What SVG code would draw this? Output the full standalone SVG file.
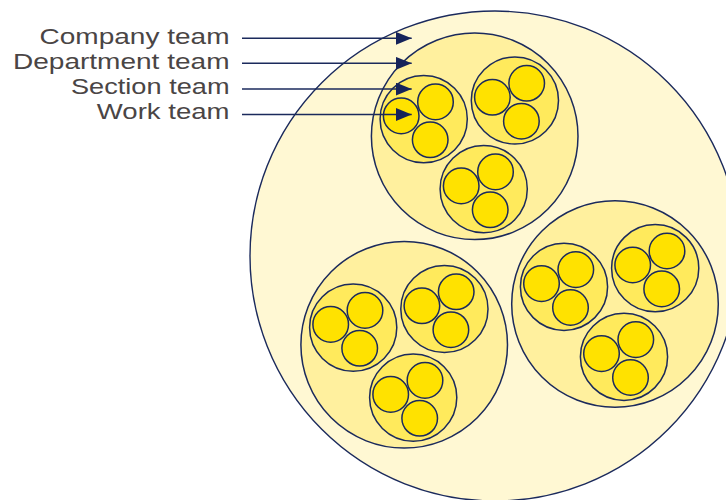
<svg xmlns="http://www.w3.org/2000/svg" width="726" height="500" viewBox="0 0 726 500">
  <style>
    .company { fill: #FFF8D3; stroke: #1B2A5C; stroke-width: 1.4; }
    .dept { fill: #FFF09E; stroke: #1B2A5C; stroke-width: 1.5; }
    .section { fill: #FFEA5C; stroke: #1B2A5C; stroke-width: 1.5; }
    .work { fill: #FFE200; stroke: #1B2A5C; stroke-width: 1.5; }
    .label { font-family: "Liberation Sans", Arial, sans-serif; font-size: 21.5px; fill: #4A4545; text-anchor: end; }
    .pointer { stroke: #1B2A5C; stroke-width: 1.4; fill: none; marker-end: url(#tip); }
  </style>
  <defs>
    <marker id="tip" markerWidth="16" markerHeight="13" refX="16" refY="6.5" orient="auto" markerUnits="userSpaceOnUse">
      <path d="M0,0 L16,6.5 L0,13 Z" fill="#16235A"/>
    </marker>
    <!-- one section: three work teams around its centre -->
    <g id="sectionShape">
      <circle class="section" cx="0" cy="0" r="43.6"/>
      <circle class="work" cx="-22.5" cy="-3.2" r="17.8"/>
      <circle class="work" cx="11.8" cy="-17.2" r="17.8"/>
      <circle class="work" cx="6.5" cy="20.7" r="17.8"/>
    </g>
  </defs>

  <g id="company-team">
    <circle class="company" cx="495" cy="256" r="245"/>
  </g>

  <g id="department-1" transform="translate(474.7,136.3)">
    <circle class="dept" cx="0" cy="0" r="103.3"/>
    <g id="section-1a"><use href="#sectionShape" x="-51" y="-17.2"/></g>
    <g id="section-1b"><use href="#sectionShape" x="40.2" y="-35.8"/></g>
    <g id="section-1c"><use href="#sectionShape" x="9" y="52.8"/></g>
  </g>

  <g id="department-2" transform="translate(404.2,344.8)">
    <circle class="dept" cx="0" cy="0" r="103.3"/>
    <g id="section-2a"><use href="#sectionShape" x="-51" y="-17.2"/></g>
    <g id="section-2b"><use href="#sectionShape" x="40.2" y="-35.8"/></g>
    <g id="section-2c"><use href="#sectionShape" x="9" y="52.8"/></g>
  </g>

  <g id="department-3" transform="translate(615,304)">
    <circle class="dept" cx="0" cy="0" r="103.3"/>
    <g id="section-3a"><use href="#sectionShape" x="-51" y="-17.2"/></g>
    <g id="section-3b"><use href="#sectionShape" x="40.2" y="-35.8"/></g>
    <g id="section-3c"><use href="#sectionShape" x="9" y="52.8"/></g>
  </g>

  <g id="labels">
    <text class="label" x="229.5" y="43.5" textLength="190" lengthAdjust="spacingAndGlyphs">Company team</text>
    <text class="label" x="229.5" y="68.5" textLength="216.5" lengthAdjust="spacingAndGlyphs">Department team</text>
    <text class="label" x="229.5" y="93.5" textLength="158.5" lengthAdjust="spacingAndGlyphs">Section team</text>
    <text class="label" x="229.5" y="119.3" textLength="132.7" lengthAdjust="spacingAndGlyphs">Work team</text>
  </g>

  <g id="connectors">
    <line class="pointer" x1="242" y1="38.3" x2="411.7" y2="38.3"/>
    <line class="pointer" x1="242" y1="63.3" x2="411.7" y2="63.3"/>
    <line class="pointer" x1="242" y1="89" x2="411.7" y2="89"/>
    <line class="pointer" x1="242" y1="114.5" x2="411.7" y2="114.5"/>
  </g>
</svg>
